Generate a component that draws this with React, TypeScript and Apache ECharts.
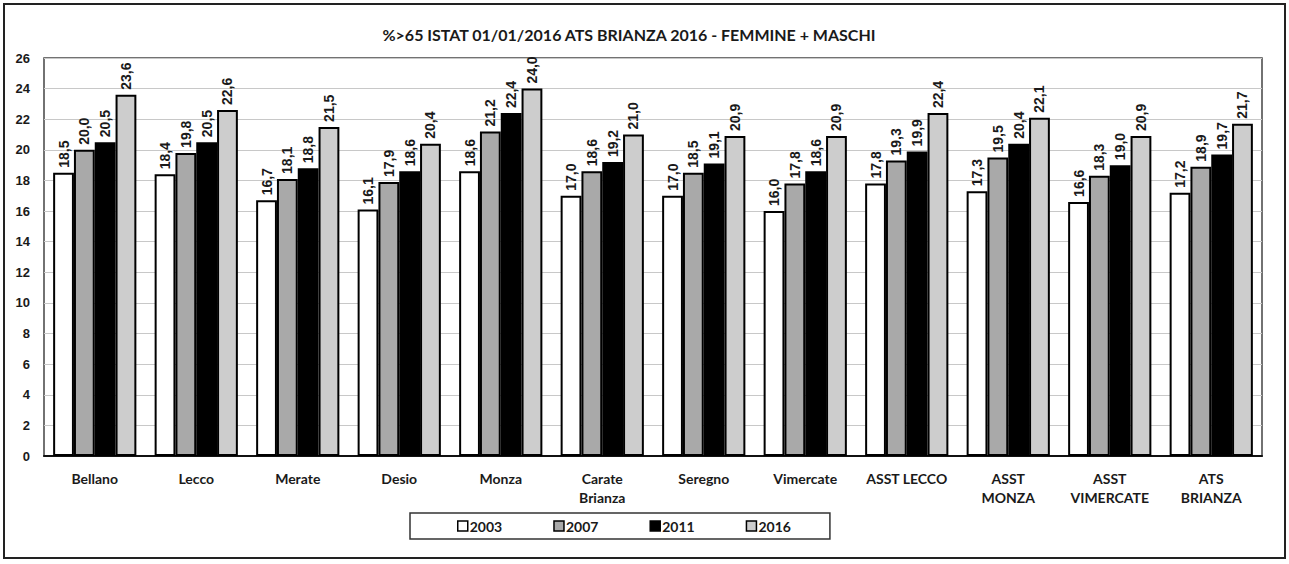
import React, { useEffect, useRef } from "react";
import * as echarts from "echarts";

// Districts and aggregates shown along the x axis
const categories = [
  "Bellano",
  "Lecco",
  "Merate",
  "Desio",
  "Monza",
  "Carate\nBrianza",
  "Seregno",
  "Vimercate",
  "ASST LECCO",
  "ASST\nMONZA",
  "ASST\nVIMERCATE",
  "ATS\nBRIANZA",
];

// Share of population over 65 (%) by year
const years = ["2003", "2007", "2011", "2016"];
const v2003 = [18.5, 18.4, 16.7, 16.1, 18.6, 17.0, 17.0, 16.0, 17.8, 17.3, 16.6, 17.2];
const v2007 = [20.0, 19.8, 18.1, 17.9, 21.2, 18.6, 18.5, 17.8, 19.3, 19.5, 18.3, 18.9];
const v2011 = [20.5, 20.5, 18.8, 18.6, 22.4, 19.2, 19.1, 18.6, 19.9, 20.4, 19.0, 19.7];
const v2016 = [23.6, 22.6, 21.5, 20.4, 24.0, 21.0, 20.9, 20.9, 22.4, 22.1, 20.9, 21.7];

const seriesValues = [v2003, v2007, v2011, v2016];
const seriesColors = ["#ffffff", "#a9a9a9", "#000000", "#cdcdcd"];

const yTicks = { min: 0, max: 26, interval: 2 };

const titleText = "%>65 ISTAT 01/01/2016 ATS BRIANZA 2016 - FEMMINE + MASCHI";

export default function App() {
  const ref = useRef<HTMLDivElement>(null);

  useEffect(() => {
    if (!ref.current) return;
    const chart = echarts.init(ref.current, null, { renderer: "svg" });

    const labelFont = "'Liberation Sans', Arial, sans-serif";
    const calibriLike = "Lato, 'Open Sans', sans-serif";

    chart.setOption({
      animation: false,
      backgroundColor: "#ffffff",
      title: {
        text: titleText,
        left: 624,
        top: 21,
        textAlign: "center",
        textStyle: {
          fontFamily: calibriLike,
          fontWeight: "bold",
          fontSize: 16,
          color: "#1a1a1a",
        },
      },
      legend: {
        data: years,
        left: 410,
        top: 513,
        orient: "horizontal",
        itemWidth: 10,
        itemHeight: 10,
        itemGap: 51,
        padding: [6, 39, 6, 47],
        borderColor: "#333",
        borderWidth: 1.5,
        icon: "rect",
        textStyle: {
          fontFamily: calibriLike,
          fontWeight: "bold",
          fontSize: 14,
          color: "#1a1a1a",
          padding: [0, 0, 0, -3],
        },
        itemStyle: { borderColor: "#000", borderWidth: 1.5 },
      },
      grid: {
        left: 44,
        right: 27,
        top: 58,
        bottom: 108,
        show: true,
        borderColor: "#444",
        borderWidth: 1.5,
        backgroundColor: "transparent",
      },
      xAxis: {
        type: "category",
        data: categories,
        axisLine: { show: true, lineStyle: { color: "#111", width: 2 } },
        axisTick: { show: false },
        axisLabel: {
          interval: 0,
          margin: 13,
          fontFamily: calibriLike,
          fontWeight: "bold",
          fontSize: 14,
          lineHeight: 19,
          color: "#1a1a1a",
        },
      },
      yAxis: {
        type: "value",
        min: yTicks.min,
        max: yTicks.max,
        interval: yTicks.interval,
        axisLine: { show: false },
        axisTick: { show: false },
        splitLine: { show: true, lineStyle: { color: "#c8c8c8", width: 1 } },
        axisLabel: {
          margin: 14,
          fontFamily: labelFont,
          fontWeight: "bold",
          fontSize: 13,
          color: "#1a1a1a",
        },
      },
      graphic: [
        {
          type: "rect",
          shape: { x: 4, y: 4, width: 1281, height: 554 },
          style: { fill: "none", stroke: "#222", lineWidth: 2 },
          silent: true,
        },
      ],
      series: years.map((y, i) => ({
        name: y,
        type: "bar",
        data: seriesValues[i],
        barGap: "0%",
        barCategoryGap: "18%",
        itemStyle: {
          color: seriesColors[i],
          borderColor: "#000",
          borderWidth: 2,
        },
        label: {
          show: true,
          position: "top",
          rotate: 90,
          align: "left",
          verticalAlign: "middle",
          distance: 5,
          fontFamily: labelFont,
          fontWeight: "bold",
          fontSize: 14,
          color: "#1a1a1a",
          formatter: (p: any) => Number(p.value).toFixed(1).replace(".", ","),
        },
      })),
    });

    return () => chart.dispose();
  }, []);

  return (
    <div
      ref={ref}
      style={{
        position: "absolute",
        left: 0,
        top: 0,
        width: 1289,
        height: 564,
        background: "#fff",
      }}
    />
  );
}
